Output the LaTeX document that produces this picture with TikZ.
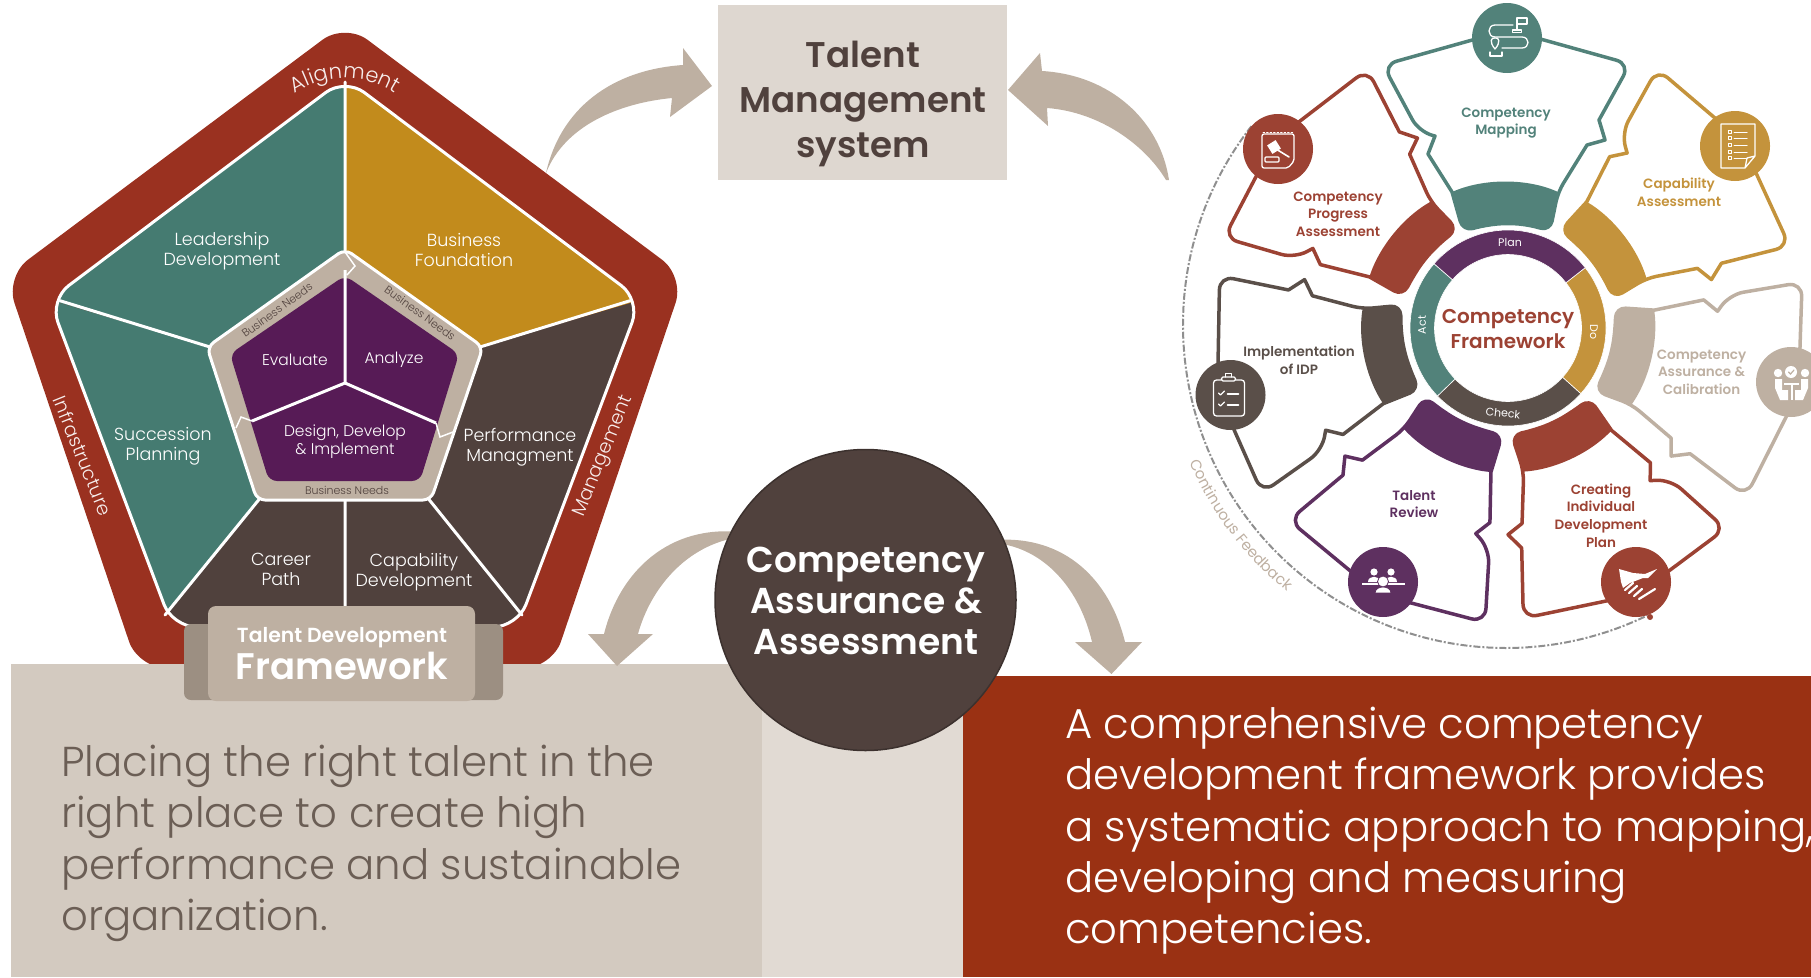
\documentclass[tikz,border=0pt]{standalone}
\usepackage{fontspec}
\usepackage{xcolor}
\usepackage{tikz}
\usetikzlibrary{decorations.text}
\setmainfont{Poppins}
\newfontfamily\lightfont{Poppins Light}
\newfontfamily\semifont{Poppins SemiBold}
\definecolor{brick}{HTML}{9A3120}
\definecolor{deepred}{HTML}{9A3113}
\definecolor{pteal}{HTML}{457B71}
\definecolor{pgold}{HTML}{C28B1C}
\definecolor{pbrown}{HTML}{50413D}
\definecolor{ptan}{HTML}{BEB0A2}
\definecolor{ptandark}{HTML}{9C8F82}
\definecolor{ppurple}{HTML}{571B56}
\definecolor{sandbox}{HTML}{D3CAC0}
\definecolor{sandlight}{HTML}{E1DAD3}
\definecolor{talentbox}{HTML}{DED7D0}
\definecolor{sandtext}{HTML}{6B5E55}
\definecolor{wteal}{HTML}{52827A}
\definecolor{wgold}{HTML}{C4933C}
\definecolor{wred}{HTML}{9C4233}
\definecolor{wpurple}{HTML}{5E3060}
\definecolor{wdark}{HTML}{5A4F49}
\definecolor{dashgray}{HTML}{8F8F8F}
\tikzset{
    white line/.style={draw=white,line width=3pt,line cap=round},
    pent text/.style={text=white,align=center,font=\lightfont\fontsize{17.5}{20}\selectfont,inner sep=0pt},
    core text/.style={text=white,align=center,font=\lightfont\fontsize{15.5}{18.5}\selectfont,inner sep=0pt},
    needs text/.style={text=pbrown,font=\lightfont\fontsize{11}{12}\selectfont,inner sep=0pt},
    rim text/.style={text=white!92!brick,font=\lightfont\fontsize{19}{22}\selectfont,inner sep=0pt},
    big arrow/.style={fill=ptan},
    para text/.style={align=left,anchor=north west,inner sep=0pt,font=\lightfont\fontsize{41.8}{51.3}\selectfont},
    petal dot/.style={circle,minimum size=70pt,inner sep=0pt},
    petal text/.style={align=center,inner sep=0pt,font=\semifont\fontsize{13.5}{17.6}\selectfont},
    petal line/.style={line width=3.5pt,line join=round},
    ring text/.style={text=white,inner sep=0pt,font=\fontsize{11}{13}\selectfont},
    icon line/.style={draw=white,line width=1.3pt,line cap=round,line join=round},
    icon fill/.style={fill=white},
}
% outline and thick foot of one petal, in the frame of the wheel
\newcommand{\petal}[2]{
    \begin{scope}[shift={(1508,326)},rotate=-#1]
        \draw[petal line,draw=#2] (0,-298) [rounded corners=14pt] -- (-108,-277) -- (-80,-209) [sharp corners] -- (-61,-201) -- (-69,-185) -- (-48,-139) [rounded corners=10pt] -- (-42,-101) -- (-22,-105) -- (0,-107) -- (22,-105) -- (44,-100) -- (49,-138) [sharp corners] -- (73,-184) -- (90.5,-188) -- (84,-206) [rounded corners=14pt] -- (113,-270) -- (0,-298);
        \fill[#2] (-48,-139) .. controls (-20,-150) and (20,-150) .. (49,-138) [rounded corners=10pt] -- (44,-100) -- (22,-105) -- (0,-107) -- (-22,-105) -- (-42,-101) -- (-48,-139);
    \end{scope}
}
\newcommand{\ringseg}[3]{
    \fill[#3,draw=white,line width=.6pt] ([shift={(#1:98pt)}]hub) arc[start angle=#1,end angle=#2,radius=98pt] -- ([shift={(#2:73.5pt)}]hub) arc[start angle=#2,end angle=#1,radius=73.5pt] -- cycle;
}

\begin{document}
\begin{tikzpicture}[x=1pt,y=-1pt]
    \useasboundingbox (0,0) rectangle (1811,977);

    % pentagon
    \fill[brick,rounded corners=28pt] (345,23) -- (684.5,276.5) -- (552,668) -- (138,668) -- (5.5,276.5) -- cycle;
    \begin{scope}
        \clip[rounded corners=24pt] (345,78) -- (640.5,300) -- (517.5,627) -- (172.5,627) -- (49.5,300) -- cycle;
        \fill[pteal] (345,78) -- (345,250) -- (210,347) -- (49,300) -- cycle;
        \fill[pgold] (345,78) -- (641,78) -- (641,300) -- (480,347) -- (345,250) -- cycle;
        \fill[pbrown] (641,300) -- (480,347) -- (429,500) -- (522,615) -- (522,630) -- (641,630) -- cycle;
        \fill[pteal] (49,300) -- (210,347) -- (259,500) -- (165,615) -- (165,630) -- (49,630) -- cycle;
        \fill[pbrown] (259,500) -- (429,500) -- (522,615) -- (522,630) -- (165,630) -- (165,615) -- cycle;
    \end{scope}
    \draw[white line] (345,82) -- (345,250) (60,300.7) -- (210,347) (630,300.7) -- (480,347) (259,499.5) -- (165,615) (429,499.5) -- (522,615) (345,499.5) -- (345,625);
    \draw[white line,rounded corners=24pt] (345,78) -- (640.5,300) -- (517.5,627) -- (172.5,627) -- (49.5,300) -- cycle;
    % core
    \filldraw[fill=ptan,draw=white,line width=3pt,rounded corners=8pt] (345,249) -- (483,347) -- (431,500) -- (257,500) -- (207,347) -- cycle;
    \fill[ppurple,rounded corners=8pt] (345,275.5) -- (459,354) -- (420,481) -- (269,481) -- (230,354) -- cycle;
    \draw[white line,line cap=butt] (345,270) -- (345,383) -- (252,421) (345,383) -- (436,423);
    \draw[draw=white,line width=1.5pt] (345,252) -- (355,266) -- (347,275) (252,421) -- (241,417) -- (236,428) (436,423) -- (440,437) -- (453,432);

    \node[pent text] (leadership) at (222,251) {Leadership\\Development};
    \node[pent text] (foundation) at (464,250) {Business\\Foundation};
    \node[pent text] (succession) at (163,446) {Succession\\Planning};
    \node[pent text] (performance) at (520,447) {Performance\\Managment};
    \node[pent text] (career) at (281,569) {Career\\Path};
    \node[pent text] (capability) at (414,572) {Capability\\Development};
    \node[core text] (evaluate) at (295,360) {Evaluate};
    \node[core text] (analyze) at (394,360) {Analyze};
    \node[core text] (design) at (345,441.5) {Design, Develop\\\& Implement};
    \node[needs text,rotate=36] (needsleft) at (277,310) {Business Needs};
    \node[needs text,rotate=-36] (needsright) at (420,313) {Business Needs};
    \node[needs text] (needsbottom) at (347,490) {Business Needs};
    \path[decorate,decoration={text along path,text align=center,text={|\lightfont\fontsize{21}{24}\selectfont\color{white!92!brick}|Alignment}}] (288,98) .. controls (322,72) and (368,72) .. (402,98);
    \node[rim text,rotate=-68] (infra) at (83,456) {Infrastructure};
    \node[rim text,rotate=68] (manage) at (604,456) {Management};

    % boxes
    \fill[sandlight] (762,664) rectangle (963,977);
    \fill[sandbox] (11,664) rectangle (762,977);
    \fill[deepred] (963,676) rectangle (1811,977);
    \fill[talentbox] (718,5) rectangle (1007,180);
    \node[text=pbrown,align=center,inner sep=0pt,font=\semifont\fontsize{35.7}{45}\selectfont] (talentsys) at (863,103.5) {Talent\\Management\\system};
    \node[para text,text=sandtext] (placing) at (61,745) {Placing the right talent in the\\right place to create high\\performance and sustainable\\organization.};
    \node[para text,text=white] (compre) at (1065,707) {A comprehensive competency\\development framework provides\\a systematic approach to mapping,\\developing and measuring\\competencies.};

    % framework tab
    \fill[ptandark,rounded corners=7pt] (184,624) rectangle (503,700);
    \fill[ptan,rounded corners=8pt] (208,606) rectangle (475,701);
    \node[text=white,inner sep=0pt,font=\semifont\fontsize{20.4}{22}\selectfont] (tdlabel) at (342,638) {Talent Development};
    \node[text=white,inner sep=0pt,font=\semifont\fontsize{37}{40}\selectfont] (fwlabel) at (342,666) {Framework};

    % curved arrows
    \fill[big arrow] (546,173) .. controls (560,110) and (610,70) .. (683,65) -- (683,48) -- (712,86) -- (670,117) -- (672,98) .. controls (620,103) and (565,125) .. cycle;
    \fill[big arrow] (1169,180) .. controls (1160,120) and (1110,75) .. (1042,71) -- (1040,53) -- (1008,90) -- (1048,126) -- (1047,108) .. controls (1100,112) and (1145,145) .. (1166,180) -- cycle;
    \fill[big arrow] (740,532) .. controls (670,525) and (620,570) .. (604,634) -- (588,634) -- (617,666) -- (653,634) -- (638,634) .. controls (650,590) and (685,545) .. (740,537) -- cycle;
    \fill[big arrow] (995,540) .. controls (1065,535) and (1110,580) .. (1125,642) -- (1142,642) -- (1111.5,674) -- (1075,642) -- (1092,642) .. controls (1080,590) and (1045,548) .. (995,543) -- cycle;

    % assurance circle
    \node[circle,minimum size=301pt,inner sep=0pt,fill=pbrown,draw=pbrown!75!black,line width=1.5pt] (assurance) at (865.5,600) {};
    \node[text=white,align=center,inner sep=0pt,font=\semifont\fontsize{36}{41}\selectfont] (assurtext) at (866,601) {Competency\\Assurance \&\\Assessment};

    % wheel
    \coordinate (hub) at (1508,328);
    \petal{51.43}{wgold}
    \petal{102.86}{ptan}
    \petal{154.29}{wred}
    \petal{205.71}{wpurple}
    \petal{257.14}{wdark}
    \petal{308.57}{wred}
    \begin{scope}[shift={(1508,326)}]
        \draw[petal line,draw=wteal] (0,-296) [rounded corners=14pt] -- (-125,-261) -- (-89,-194) [sharp corners] -- (-73,-190) -- (-80,-172) -- (-56,-134) [rounded corners=10pt] -- (-45,-95) -- (-22,-101) -- (0,-103) -- (22,-101) -- (42,-95) -- (50,-134) [sharp corners] -- (79,-181) -- (97,-186) -- (91,-206) [rounded corners=14pt] -- (122,-262) -- (0,-296);
        \fill[wteal] (-56,-134) .. controls (-25,-148) and (20,-148) .. (50,-134) [rounded corners=10pt] -- (42,-95) -- (22,-101) -- (0,-103) -- (-22,-101) -- (-45,-95) -- (-56,-134);
    \end{scope}

    \draw[dashgray,line width=2pt,dash pattern=on 7pt off 2pt on 2pt off 2pt] (1506,325) ++(142:323pt) arc[start angle=142,end angle=296,radius=323pt];
    \fill[wred] (1650,617) circle[radius=3pt];
    \path[decorate,decoration={text along path,text align=center,text={|\fontsize{15}{16}\selectfont\color{ptan}|Continuous Feedback}}] (1506,325) ++(188:345pt) arc[start angle=188,end angle=246,radius=345pt];

    \ringseg{224}{139}{wteal}
    \ringseg{-42}{-136}{wdark}
    \ringseg{38}{-42}{wgold}
    \ringseg{139}{38}{wpurple}
    \node[ring text] (plan) at (1510,242) {Plan};
    \node[ring text,rotate=-90] (do) at (1594,332) {Do};
    \node[ring text,rotate=-6] (check) at (1503,413) {Check};
    \node[ring text,rotate=90] (act) at (1422,325) {Act};
    \node[text=wred,align=center,inner sep=0pt,font=\semifont\fontsize{20}{25}\selectfont] (cfw) at (1508,329) {Competency\\Framework};

    \node[petal text,text=wteal] (mappingtext) at (1506,123) {Competency\\Mapping};
    \node[petal text,text=wgold] (capabtext) at (1679,192.5) {Capability\\Assessment};
    \node[petal text,text=ptan] (calibtext) at (1701.5,372) {Competency\\Assurance \&\\Calibration};
    \node[petal text,text=wred] (idptext) at (1601,515.5) {Creating\\Individual\\Development\\Plan};
    \node[petal text,text=wpurple] (reviewtext) at (1414,504) {Talent\\Review};
    \node[petal text,text=wdark] (impltext) at (1299,360) {Implementation\\of IDP};
    \node[petal text,text=wred] (progtext) at (1338,214) {Competency\\Progress\\Assessment};

    % icon circles
    \node[petal dot,fill=wteal] (mapdot) at (1507,38) {};
    \node[petal dot,fill=wgold] (capdot) at (1735,146) {};
    \node[petal dot,fill=ptan] (calibdot) at (1791,382) {};
    \node[petal dot,fill=wred] (idpdot) at (1636,582) {};
    \node[petal dot,fill=wpurple] (revdot) at (1383,582) {};
    \node[petal dot,fill=wdark] (impldot) at (1230.5,395) {};
    \node[petal dot,fill=wred] (progdot) at (1278,149) {};

    % route icon
    \begin{scope}[shift={(mapdot)}]
        \draw[icon line] (10,-8) -- (10,-20) -- (20,-20) -- (20,-14) -- (10,-14);
        \draw[icon line] (5.5,-8) -- (14.5,-8) -- (14.5,-5.5) -- (5.5,-5.5) -- cycle;
        \draw[icon line] (6,-13) -- (-12,-13) .. controls (-20,-13) and (-20,-1) .. (-12,-1) -- (15,-1) .. controls (23,-1) and (23,10) .. (15,10) -- (-5,10);
        \draw[icon line] (-12,11) .. controls (-18,4) and (-16,-1) .. (-12,0) .. controls (-8,-1) and (-6,4) .. (-12,11);
        \draw[icon line] (-17,18) -- (-5,18) (-17,18) -- (-17,14) (-5,18) -- (-5,14);
    \end{scope}
    % checklist icon
    \begin{scope}[shift={(capdot)}]
        \draw[icon line] (-14,-22) -- (20,-22) -- (20,10) -- (10,22) -- (-14,22) -- cycle (20,10) -- (12,12) -- (10,22);
        \foreach \y in {-14,-8,-1,6,12}{
            \draw[icon line,line width=1pt] (-7,\y-1.5) rectangle (-4,\y+1.5) (-1,\y) -- (12,\y);
        }
    \end{scope}
    % team icon
    \begin{scope}[shift={(calibdot)}]
        \fill[icon fill] (-13,-9) circle[radius=4.2pt] (14,-9) circle[radius=4.2pt] (0,-10) circle[radius=6pt];
        \draw[draw=ptan,line width=1.2pt,line cap=round] (-2.5,-10) -- (-.5,-8) -- (3,-12);
        \fill[icon fill] (-16,-3) -- (-9,-3) -- (-9,8) -- (-3,8) -- (-3,18) -- (-11,18) -- (-16,6) -- cycle;
        \fill[icon fill] (17,-3) -- (10,-3) -- (10,8) -- (4,8) -- (4,18) -- (12,18) -- (17,6) -- cycle;
        \draw[icon line,line width=2pt,line cap=butt] (-7,2) -- (8,2) (.5,2) -- (.5,18);
    \end{scope}
    % handshake icon
    \begin{scope}[shift={(idpdot)}]
        \fill[icon fill] (-17,-13) -- (-3,-9) -- (9,-8) -- (21,-13) -- (12,-4) -- (7,-4) -- (-6,1) -- (-13,6) -- (-15,0) -- cycle;
        \draw[icon line,line width=2.2pt] (-11,8) -- (-3,1) (-7,11) -- (1,4) (-2,14) -- (6,7) (3,17) -- (19,7);
    \end{scope}
    % review icon
    \begin{scope}[shift={(revdot)}]
        \fill[icon fill] (-9,-10) circle[radius=3.6pt] (8,-10) circle[radius=3.6pt];
        \fill[icon fill] (-15,0) .. controls (-15,-7) and (-3,-7) .. (-3,0) -- cycle (2,0) .. controls (2,-7) and (14,-7) .. (14,0) -- cycle;
        \draw[icon line,line width=1.6pt,line cap=butt] (-21,2) -- (22,2);
        \fill[icon fill,draw=wpurple,line width=.8pt] (0,-.5) circle[radius=5.5pt];
        \fill[icon fill,draw=wpurple,line width=.8pt] (-8,11) .. controls (-8,3) and (8,3) .. (8,11) -- cycle;
    \end{scope}
    % clipboard icon
    \begin{scope}[shift={(impldot)}]
        \draw[icon line,rounded corners=3pt] (-9,-15) -- (-17,-15) -- (-17,21) -- (14,21) -- (14,-15) -- (5,-15);
        \draw[icon line,rounded corners=1.5pt] (-9,-18) rectangle (5,-14);
        \draw[icon line,line width=1pt] (-5,-18) -- (-5,-22) -- (1,-22) -- (1,-18);
        \draw[icon line] (-12,-2) -- (-10,0) -- (-6,-4) (-12,9) -- (-10,11) -- (-6,7);
        \draw[icon line,line width=1.6pt] (-3,-1) -- (8,-1) (-3,10) -- (8,10);
    \end{scope}
    % gavel icon
    \begin{scope}[shift={(progdot)}]
        \draw[icon line,rounded corners=2pt] (-16,-15) -- (16,-15) -- (16,12) -- (10,19) -- (-16,19) -- cycle;
        \draw[icon line,line width=1pt,dash pattern=on 1.5pt off 2pt] (-15,-16.5) -- (15,-16.5);
        \fill[icon fill,rotate around={32:(-4,-2)}] (-9,-7) rectangle (1,3);
        \draw[icon line,line width=1.6pt] (-2,0) -- (11,8);
        \draw[icon line,rounded corners=1pt] (-13,8) rectangle (1,13);
    \end{scope}
\end{tikzpicture}
\end{document}
